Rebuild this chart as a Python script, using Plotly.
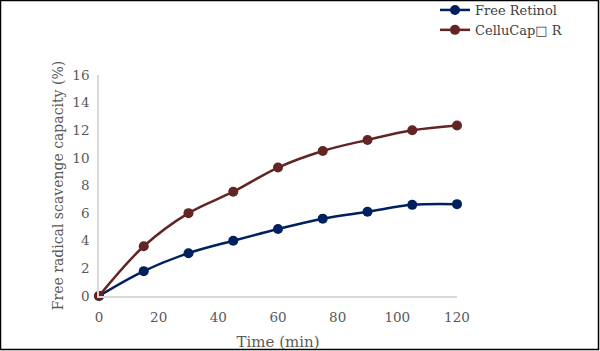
import plotly.graph_objects as go

time_min = [0, 15, 30, 45, 60, 75, 90, 105, 120]
free_retinol = [0.0, 1.8, 3.1, 4.0, 4.85, 5.6, 6.1, 6.6, 6.65]
cellucap = [0.0, 3.6, 6.0, 7.55, 9.3, 10.5, 11.3, 12.0, 12.35]
series_names = ["Free Retinol", "CelluCap\u25a1 R"]
x_ticks = [0, 20, 40, 60, 80, 100, 120]
y_ticks = [0, 2, 4, 6, 8, 10, 12, 14, 16]

W, H = 600, 351
L, R, T, B = 99, 143, 75, 55

fig = go.Figure()
fig.add_trace(go.Scatter(x=time_min, y=free_retinol, name=series_names[0],
                         mode="lines+markers", line=dict(color="#002060", width=2.5, shape="spline"),
                         marker=dict(color="#002060", size=10), cliponaxis=False))
fig.add_trace(go.Scatter(x=time_min, y=cellucap, name=series_names[1],
                         mode="lines+markers", line=dict(color="#632523", width=2.5, shape="spline"),
                         marker=dict(color="#632523", size=10), cliponaxis=False))

font_fam = "DejaVu Serif, Liberation Serif, serif"
pw = W - L - R
ph = H - T - B

def px(xp):
    return (xp - L) / pw

def py(yp):
    return (H - B - yp) / ph

fig.update_layout(
    width=W, height=H,
    margin=dict(l=L, r=R, t=T, b=B, autoexpand=False),
    paper_bgcolor="white", plot_bgcolor="white",
    font=dict(family=font_fam, color="#595959", size=13),
    showlegend=True,
    legend=dict(x=px(435), y=py(-5), xanchor="left", yanchor="top",
                font=dict(family=font_fam, size=13, color="#404040"),
                bgcolor="rgba(0,0,0,0)", tracegroupgap=0, itemwidth=30),
    xaxis=dict(range=[0, 120], tickvals=x_ticks, showgrid=False, zeroline=False,
               showline=True, linecolor="#d9d9d9", linewidth=1.5, ticks="",
               tickfont=dict(size=13.5, color="#595959"), ticklabelstandoff=8,
               title=dict(text="Time (min)", font=dict(size=15, color="#595959"), standoff=24)),
    yaxis=dict(range=[0, 16], tickvals=y_ticks, showgrid=False, zeroline=False,
               showline=True, linecolor="#d9d9d9", linewidth=1.5, ticks="",
               tickfont=dict(size=13.5, color="#595959"), ticklabelstandoff=5,
               title=dict(text="Free radical scavenge capacity (%)", font=dict(size=14, color="#595959"), standoff=5)),
)

# outer frame
fig.add_shape(type="rect", xref="paper", yref="paper",
              x0=px(0.5), x1=px(598.5), y0=py(349.5), y1=py(0.5),
              line=dict(color="#000000", width=1.5), fillcolor="rgba(0,0,0,0)", layer="above")

fig.write_html("out.html")
